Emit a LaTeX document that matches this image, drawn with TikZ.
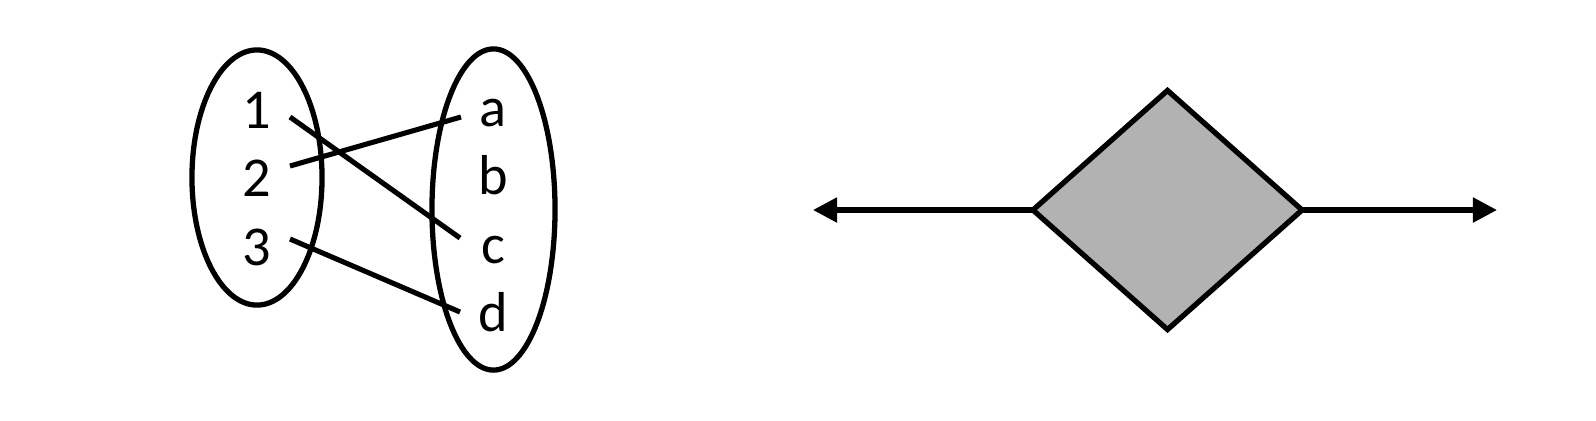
\documentclass[tikz,border=0pt]{standalone}
\usepackage{fontspec}
\setmainfont{Carlito}
\usetikzlibrary{arrows.meta,shapes.geometric}
\definecolor{diafill}{RGB}{178,178,178}
\tikzset{
  stroke/.style={line width=1.5pt, draw=black},
  setring/.style={ellipse, stroke, inner sep=0pt},
  lbl/.style={anchor=base, inner sep=0pt, font=\fontsize{16}{19}\selectfont},
  mapline/.style={line width=1.45pt},
  tipped/.style={line width=1.45pt, -{Triangle[length=0.24cm, width=0.24cm]}}
}
\begin{document}
\begin{tikzpicture}[x=0.01cm, y=-0.01cm]
\useasboundingbox (0,0) rectangle (1596,420);
% sets
\node[setring, minimum width=1.30cm, minimum height=2.55cm] (A) at (257,177.5) {};
\node[setring, minimum width=1.23cm, minimum height=3.21cm] (B) at (493.5,209.5) {};
% labels
\node[lbl] (n1) at (257,128) {1};
\node[lbl] (n2) at (257,196.5) {2};
\node[lbl] (n3) at (257,265) {3};
\node[lbl] (la) at (493,126) {a};
\node[lbl] (lb) at (493,194.5) {b};
\node[lbl] (lc) at (493,263) {c};
\node[lbl] (ld) at (493,331.5) {d};
% line end points
\coordinate (s1) at (290,117);
\coordinate (s2) at (290,166);
\coordinate (s3) at (290,239);
\coordinate (ea) at (461,117);
\coordinate (ec) at (460,238);
\coordinate (ed) at (460,312);
\draw[mapline] (s1) -- (ec);
\draw[mapline] (s2) -- (ea);
\draw[mapline] (s3) -- (ed);
% diamond
\node[diamond, stroke, fill=diafill, minimum width=2.69cm, minimum height=2.39cm, inner sep=0pt, outer sep=0pt] (D) at (1167.5,210) {};
\coordinate (tl) at (813,210);
\coordinate (tr) at (1497,210);
\draw[tipped] (D.west) -- (tl);
\draw[tipped] (D.east) -- (tr);
\end{tikzpicture}
\end{document}
